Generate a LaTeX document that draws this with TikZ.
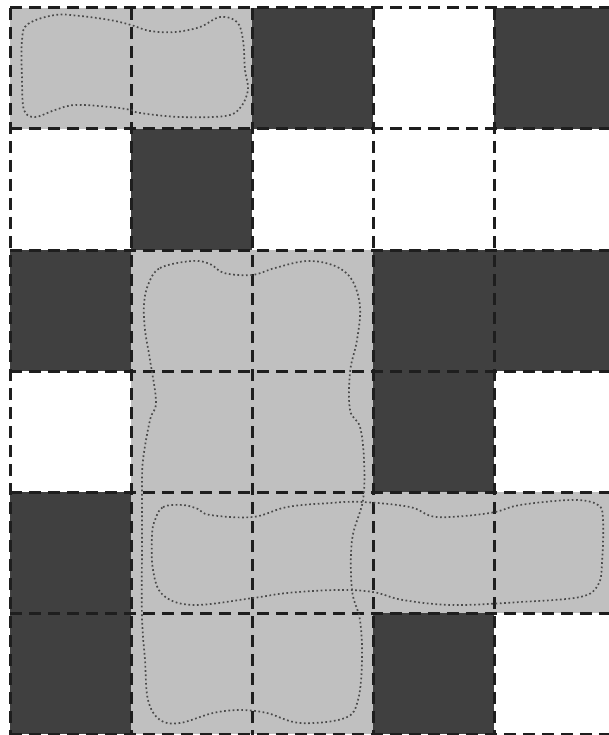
\documentclass[tikz,border=0pt]{standalone}
\usetikzlibrary{calc}
\definecolor{cellgray}{HTML}{C0C0C0}
\definecolor{celldark}{HTML}{404040}
\definecolor{cellwhite}{HTML}{FFFFFF}
\definecolor{edgecol}{HTML}{1E1E1E}
\definecolor{dotcol}{HTML}{4A4A4A}
\tikzset{
  gridline/.style={draw=edgecol, line width=3pt, dash pattern=on 12pt off 7pt},
  blob/.style={draw=dotcol, line width=1.7pt, dash pattern=on 1.7pt off 2.6pt, line cap=butt},
}
\begin{document}
\begin{tikzpicture}[x=1pt,y=-1pt]
\useasboundingbox (0,0) rectangle (609,735);
\clip (0,0) rectangle (609,735);
\fill[white] (0,0) rectangle (609,735);
% grid cells: row/col/colour
\foreach \r/\c/\col in {
 0/0/cellgray,0/1/cellgray,0/2/celldark,0/3/cellwhite,0/4/celldark,
 1/0/cellwhite,1/1/celldark,1/2/cellwhite,1/3/cellwhite,1/4/cellwhite,
 2/0/celldark,2/1/cellgray,2/2/cellgray,2/3/celldark,2/4/celldark,
 3/0/cellwhite,3/1/cellgray,3/2/cellgray,3/3/celldark,3/4/cellwhite,
 4/0/celldark,4/1/cellgray,4/2/cellgray,4/3/cellgray,4/4/cellgray,
 5/0/celldark,5/1/cellgray,5/2/cellgray,5/3/celldark,5/4/cellwhite}
 {
  \fill[\col] ({10+121*\c},{8+121*\r}) rectangle ({131+121*\c},{129+121*\r});
 }
% dashed grid lines
\foreach \k in {0,...,6}
  \draw[gridline] (10,{8+121*\k}) -- (616,{8+121*\k});
\foreach \k in {0,...,5}
  \draw[gridline] ({10+121*\k},8) -- ({10+121*\k},735);
% dotted regions
\draw[blob] plot[smooth cycle, tension=0.6] coordinates {
 (22,40) (28,24) (55,15) (80,16) (110,20) (131,25) (150,31) (175,32)
 (200,27) (220,17) (237,22) (243,40) (245,70) (248,90) (240,108) (225,116)
 (180,117) (140,113) (131,110) (110,107) (75,105) (55,110) (35,117) (24,110) (22,80)};
\draw[blob] plot[smooth cycle, tension=0.6] coordinates {
 (148,285) (160,268) (192,261) (210,264) (224,273) (252,275) (275,268)
 (307,261) (335,266) (352,280) (360,307) (357,340) (350,372) (350,410)
 (360,427) (364,460) (363,500) (352,540) (352,590) (360,620) (362,660)
 (358,700) (345,718) (300,723) (267,713) (240,710) (213,713) (180,723)
 (160,720) (148,700) (145,660) (142,617) (142,540) (142,493) (143,460)
 (150,420) (156,402) (150,360) (145,330) (144,305)};
\draw[blob] plot[smooth cycle, tension=0.6] coordinates {
 (155,520) (163,507) (183,505) (198,509) (210,515) (253,517) (287,507)
 (330,503) (363,502) (410,507) (437,517) (490,513) (520,505) (573,500)
 (598,505) (603,520) (602,563) (598,585) (580,597) (520,602) (453,605)
 (403,600) (373,592) (337,590) (287,593) (253,598) (193,605) (163,595)
 (153,570) (152,535)};
\end{tikzpicture}
\end{document}
